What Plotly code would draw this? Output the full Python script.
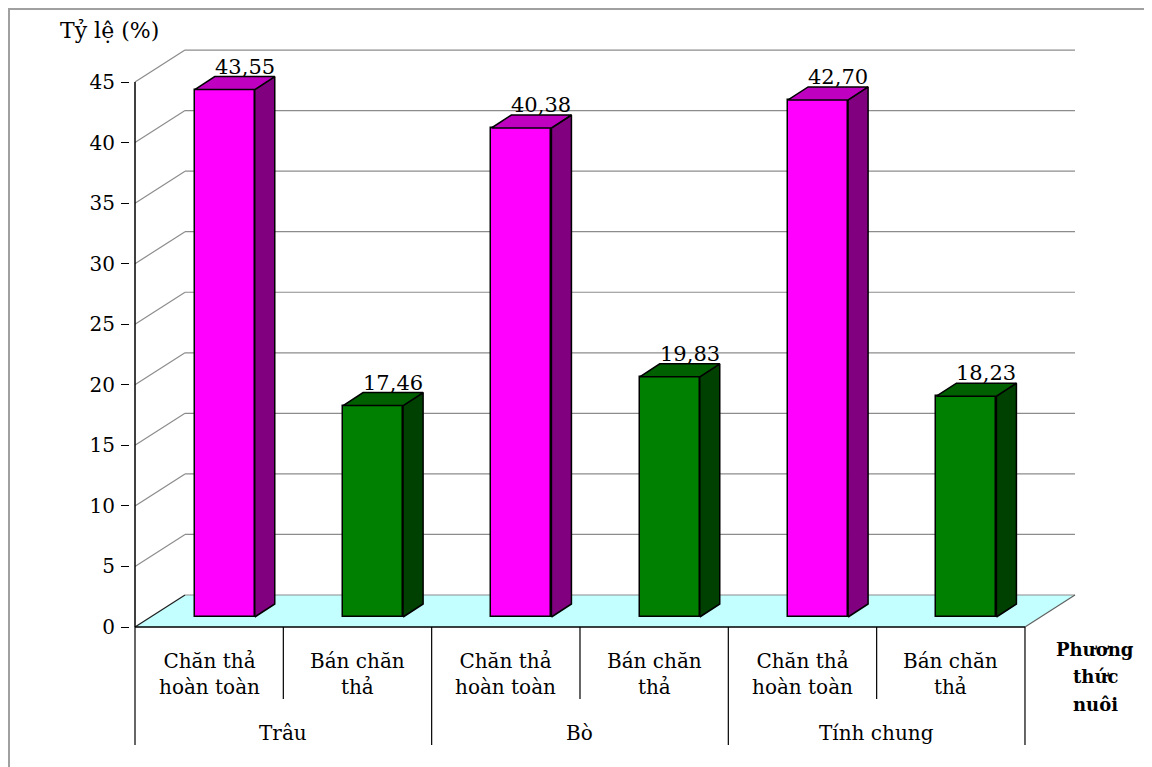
import plotly.graph_objects as go

# ---------------- data ----------------
groups = ["Trâu", "Bò", "Tính chung"]
methods = ["Chăn thả<br>hoàn toàn", "Bán chăn<br>thả"]
values = [43.55, 17.46, 40.38, 19.83, 42.70, 18.23]
value_labels = ["43,55", "17,46", "40,38", "19,83", "42,70", "18,23"]
y_ticks = [0, 5, 10, 15, 20, 25, 30, 35, 40, 45]
axis_title = "Tỷ lệ (%)"
x_title_lines = ["Phương", "thức", "nuôi"]

# ---------------- geometry (pixel scale of the 3D look) ----------------
PX_X = 148.33          # pixels per category
PX_Y = 12.11           # pixels per value unit
DX = 50 / PX_X         # depth shift of back wall (x)
DY = 32 / PX_Y         # depth shift of back wall (y)
BOFF_X = 15.6 / PX_X   # bar front offset into depth
BOFF_Y = 10 / PX_Y
BDX = 20 / PX_X        # bar depth
BDY = 13 / PX_Y
BW = 60 / PX_X         # bar width
N = len(values)

front_cols = ["#FF00FF", "#008000"]
top_cols = ["#C000C0", "#006000"]
side_cols = ["#800080", "#004000"]

OFF = 8                       # page body margin
W, H = 1152 - OFF, 767 - OFF  # figure size
X0_PX, Y0_PX = 135, 627       # screen position of axis origin
PLOT_L, PLOT_R, PLOT_T, PLOT_B = 130, 1080, 45, 750   # screen plot area
L, R = PLOT_L - OFF, (W + OFF) - PLOT_R
T, B = PLOT_T - OFF, (H + OFF) - PLOT_B

xmin = (PLOT_L - X0_PX) / PX_X
xmax = (PLOT_R - X0_PX) / PX_X
ymin = (Y0_PX - PLOT_B) / PX_Y
ymax = (Y0_PX - PLOT_T) / PX_Y


def px_paper_x(px):
    return (px - PLOT_L) / (PLOT_R - PLOT_L)


def px_paper_y(py):
    return (PLOT_B - py) / (PLOT_B - PLOT_T)


def px_val(py):
    return (Y0_PX - py) / PX_Y


fig = go.Figure()
shapes = []

# floor
shapes.append(dict(type="path", xref="x", yref="y", layer="below",
                   path=f"M 0 0 L {N} 0 L {N+DX} {DY} L {DX} {DY} Z",
                   fillcolor="#C4FFFF", line=dict(width=0)))
# gridlines (side wall diagonal + back wall horizontal)
for k in y_ticks:
    shapes.append(dict(type="line", xref="x", yref="y", layer="below",
                       x0=DX, y0=k + DY, x1=N + DX, y1=k + DY,
                       line=dict(color="#8C8C8C", width=1.2)))
    if k > 0:
        shapes.append(dict(type="line", xref="x", yref="y", layer="below",
                           x0=0, y0=k, x1=DX, y1=k + DY,
                           line=dict(color="#8C8C8C", width=1.2)))
# floor edges
shapes.append(dict(type="line", xref="x", yref="y", x0=0, y0=0, x1=DX, y1=DY,
                   line=dict(color="#202020", width=1.2)))
shapes.append(dict(type="line", xref="x", yref="y", x0=N, y0=0, x1=N + DX, y1=DY,
                   line=dict(color="#606060", width=1.2)))
shapes.append(dict(type="line", xref="x", yref="y", x0=0, y0=0, x1=N, y1=0,
                   line=dict(color="black", width=1.5)))

# category table lines
y_bottom = px_val(745)
y_inner = px_val(699)
for k in range(N + 1):
    shapes.append(dict(type="line", xref="x", yref="y", x0=k, x1=k, y0=0,
                       y1=y_bottom if k % 2 == 0 else y_inner,
                       line=dict(color="black", width=1.2)))
# y axis line
shapes.append(dict(type="line", xref="x", yref="y", x0=0, x1=0, y0=0, y1=max(y_ticks),
                   line=dict(color="black", width=1.5)))
# outer border
shapes.append(dict(type="rect", xref="paper", yref="paper",
                   x0=px_paper_x(9), x1=px_paper_x(1150),
                   y0=px_paper_y(790), y1=px_paper_y(9),
                   line=dict(color="#A0A0A0", width=2), fillcolor="rgba(0,0,0,0)",
                   layer="below"))

# bars: front faces through go.Bar
xc = [i + 0.5 + BOFF_X for i in range(N)]
fig.add_trace(go.Bar(x=xc, y=values, base=BOFF_Y, width=BW,
                     marker=dict(color=[front_cols[i % 2] for i in range(N)],
                                 line=dict(color="black", width=1.5)),
                     hoverinfo="skip", showlegend=False))

# top & side faces
for i, v in enumerate(values):
    xl = xc[i] - BW / 2
    xr = xc[i] + BW / 2
    top = v + BOFF_Y
    base = BOFF_Y
    fig.add_trace(go.Scatter(
        x=[xr, xr + BDX, xr + BDX, xr, xr],
        y=[base, base + BDY, top + BDY, top, base],
        fill="toself", fillcolor=side_cols[i % 2], mode="lines",
        line=dict(color="black", width=1.5), hoverinfo="skip", showlegend=False))
    fig.add_trace(go.Scatter(
        x=[xl, xr, xr + BDX, xl + BDX, xl],
        y=[top, top, top + BDY, top + BDY, top],
        fill="toself", fillcolor=top_cols[i % 2], mode="lines",
        line=dict(color="black", width=1.5), hoverinfo="skip", showlegend=False))

SERIF = "DejaVu Serif"
ann = []
for i, v in enumerate(values):
    ann.append(dict(x=xc[i] + BDX, y=v + BOFF_Y + BDY, xref="x", yref="y",
                    text=value_labels[i], showarrow=False, xanchor="center",
                    yanchor="bottom", yshift=-4,
                    font=dict(family=SERIF, size=21, color="black")))
# category labels
for i in range(N):
    ann.append(dict(x=i + 0.5, y=px_val(674), xref="x", yref="y",
                    text=methods[i % 2], showarrow=False,
                    xanchor="center", yanchor="middle",
                    font=dict(family=SERIF, size=20, color="black")))
for g, name in enumerate(groups):
    ann.append(dict(x=2 * g + 1, y=px_val(733), xref="x", yref="y",
                    text=name, showarrow=False,
                    xanchor="center", yanchor="middle",
                    font=dict(family=SERIF, size=20, color="black")))
for j, line in enumerate(x_title_lines):
    ann.append(dict(x=px_paper_x(1095), y=px_paper_y(649 + 27.5 * j),
                    xref="paper", yref="paper", text=f"<b>{line}</b>",
                    showarrow=False, xanchor="center", yanchor="middle",
                    font=dict(family=SERIF, size=18, color="black")))
ann.append(dict(x=px_paper_x(109), y=px_paper_y(31), xref="paper", yref="paper",
                text=axis_title, showarrow=False, xanchor="center", yanchor="middle",
                font=dict(family=SERIF, size=22, color="black")))

fig.update_layout(
    width=W, height=H,
    margin=dict(l=L, r=R, t=T, b=B),
    paper_bgcolor="white", plot_bgcolor="white",
    shapes=shapes, annotations=ann,
    bargap=0,
    xaxis=dict(range=[xmin, xmax], visible=False, fixedrange=True),
    yaxis=dict(range=[ymin, ymax], tickvals=y_ticks, ticks="outside",
               ticklen=8, tickcolor="black", tickwidth=1.2,
               showgrid=False, zeroline=False, showline=False,
               ticklabelstandoff=2,
               tickfont=dict(family=SERIF, size=20, color="black")),
)

fig.write_html("out.html")
